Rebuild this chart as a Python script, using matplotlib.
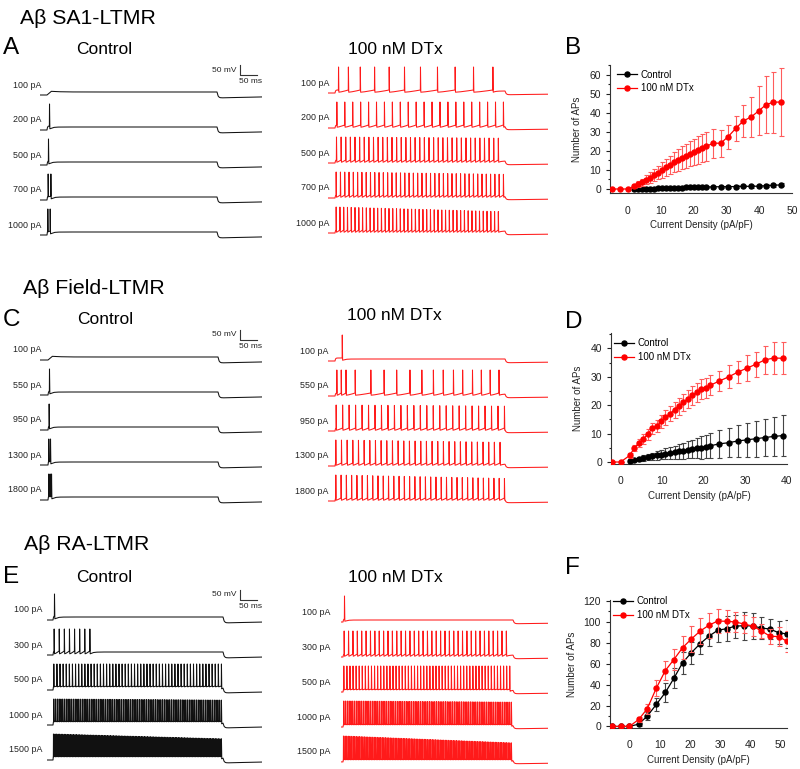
import numpy as np
import matplotlib
matplotlib.use('Agg')
import matplotlib.pyplot as plt
from matplotlib.lines import Line2D
from matplotlib.ticker import MultipleLocator

plt.rcParams['font.family'] = ['Liberation Sans', 'DejaVu Sans']
W, H = 800, 769

# ======================= DATA =======================
# trace labels (injected current)
sa1_currents = ['100 pA', '200 pA', '500 pA', '700 pA', '1000 pA']
field_currents = ['100 pA', '550 pA', '950 pA', '1300 pA', '1800 pA']
ra_currents = ['100 pA', '300 pA', '500 pA', '1000 pA', '1500 pA']

# spike trains: explicit spike times (ms after step onset) or (count, first, last)
sa1_ctrl_spikes = [[], [7], [4], [3, 11], [2, 9]]
sa1_dtx_spikes = [[10, 39, 74, 116, 159, 204, 251, 301, 353, 407, 464],
                  (22, 5, 495), (36, 4, 480), (40, 3, 495), (44, 3, 480)]
field_ctrl_spikes = [[], [4], [3], [2, 7], [2, 6, 10]]
field_dtx_spikes = [[21],
                    [5, 18, 32, 59, 105, 144, 181, 220, 255, 289, 318, 348,
                     375, 404, 430, 456, 482],
                    (27, 3, 498), (30, 2, 485), (33, 2, 498)]
ra_ctrl_spikes = [[4], (8, 3, 108), (55, 2, 495), (95, 2, 495), (110, 1, 495)]
ra_dtx_spikes = [[4], (38, 3, 480), (55, 2, 490), (95, 2, 495), (105, 1, 495)]

# relative spike amplitude at the end of each train
sa1_ctrl_amp_end = [1, 1, 1, 1, 1]
sa1_dtx_amp_end = [1, 1, 0.95, 0.9, 0.8]
field_ctrl_amp_end = [1, 1, 1, 1, 1]
field_dtx_amp_end = [1, 1, 0.95, 0.9, 0.85]
ra_ctrl_amp_end = [1, 1, 1, 0.95, 0.78]
ra_dtx_amp_end = [1, 1, 1, 0.95, 0.7]

# Panel B (SA1)
B_ctrl_x = [2.0, 3.2, 4.4, 5.6, 6.8, 8.1, 9.3, 10.5, 11.7, 12.9, 14.1, 15.3, 16.5,
            17.7, 18.9, 20.2, 21.4, 22.6, 23.8, 26.0, 28.3, 30.6, 32.9, 35.2, 37.6,
            39.9, 42.1, 44.3, 46.7]
B_ctrl_y = [0, 0, 0, 0.1, 0.2, 0.2, 0.3, 0.3, 0.3, 0.4, 0.5, 0.6, 0.7, 0.8, 0.9,
            0.9, 1.0, 1.0, 1.0, 1.1, 1.2, 1.2, 1.3, 1.4, 1.4, 1.5, 1.7, 1.9, 2.2]
B_ctrl_err = [0.1, 0.1, 0.1, 0.2, 0.2, 0.3, 0.3, 0.3, 0.3, 0.4, 0.4, 0.4, 0.5, 0.5,
              0.5, 0.5, 0.5, 0.5, 0.5, 0.5, 0.6, 0.6, 0.6, 0.6, 0.7, 0.7, 0.7, 0.8, 0.8]
B_dtx_x = [-4.9, -2.4, 0.0] + B_ctrl_x
B_dtx_y = [0, 0, 0, 1.5, 2.5, 3.5, 4.8, 6.0, 7.3, 8.6, 10.0, 11.3, 12.6, 14.0, 15.2,
           16.3, 17.4, 18.5, 19.5, 20.5, 21.5, 22.3, 24.0, 24.0, 27.5, 31.8, 35.7,
           37.8, 41.0, 44.2, 45.5, 45.6]
B_dtx_err = [0, 0, 0, 1.2, 1.6, 2.0, 2.4, 2.8, 3.2, 3.6, 4.0, 4.4, 4.8, 5.2, 5.6,
             6.0, 6.3, 6.6, 6.9, 7.2, 7.5, 7.7, 7.5, 7.0, 6.3, 6.6, 8.2, 10.6, 12.8,
             15.0, 16.0, 18.0]

# Panel D (Field)
D_ctrl_x = [2.2, 3.3, 4.4, 5.4, 6.5, 7.6, 8.7, 9.8, 10.8, 11.9, 13.0, 14.0, 15.1,
            16.2, 17.3, 18.4, 19.5, 20.5, 21.6, 23.8, 26.1, 28.2, 30.4, 32.6, 34.7,
            36.9, 39.1]
D_ctrl_y = [0.4, 0.8, 1.1, 1.4, 1.7, 2.0, 2.3, 2.6, 2.9, 3.1, 3.4, 3.7, 4.0, 4.3,
            4.6, 4.9, 5.1, 5.4, 5.7, 6.4, 6.8, 7.4, 7.8, 8.2, 8.6, 9.0, 9.3]
D_ctrl_err = [0.3, 0.5, 0.7, 0.9, 1.1, 1.3, 1.5, 1.7, 1.9, 2.1, 2.3, 2.5, 2.8, 3.0,
              3.3, 3.6, 3.9, 4.1, 4.4, 5.0, 5.2, 5.5, 6.0, 6.3, 6.5, 7.0, 7.1]
D_dtx_x = [-2.1, 0.0] + D_ctrl_x
D_dtx_y = [0, 0, 2.3, 4.9, 6.6, 8.1, 9.7, 11.8, 12.6, 14.3, 15.7, 17.0, 18.4, 19.7,
           21.0, 22.3, 23.5, 24.5, 25.6, 26.2, 27.0, 28.5, 30.0, 31.6, 33.0, 34.4,
           35.9, 36.6, 36.5]
D_dtx_err = [0, 0, 1.0, 1.2, 1.4, 1.6, 1.8, 2.0, 2.2, 2.4, 2.5, 2.7, 2.8, 3.0, 3.1,
             3.2, 3.3, 3.4, 3.5, 3.5, 3.5, 3.6, 4.0, 3.8, 4.6, 4.4, 5.0, 5.5, 5.7]

# Panel F (RA)
F_x = [-5.8, -2.9, 0.0, 3.1, 5.9, 8.9, 11.9, 14.7, 17.6, 20.5, 23.4, 26.4, 29.2,
       32.2, 35.0, 37.9, 40.8, 43.6, 46.5, 49.3, 52.1]
F_ctrl_y = [0, 0, 0, 2.2, 9.9, 21.0, 32.5, 46.0, 61.0, 70.6, 79.2, 86.6, 92.0,
            93.6, 96.0, 96.4, 96.1, 94.2, 93.2, 89.7, 88.5]
F_ctrl_err = [0, 0, 0, 1.5, 3.5, 6, 9, 9.5, 10.5, 10.5, 10, 9.5, 11, 12, 11, 13.5,
              12.7, 10.8, 10, 11, 13]
F_dtx_y = [0, 0, 0, 6.7, 16.9, 36.6, 53.5, 64.0, 75.4, 83.7, 91.3, 97.0, 100.9,
           100.6, 100.0, 98.0, 96.0, 91.5, 86.3, 86.0, 81.5]
F_dtx_err = [0, 0, 0, 2, 5, 7.6, 9, 10, 11, 12, 12, 12, 11.5, 10.5, 9.5, 9, 9, 6.5,
             7, 9, 10]

# ======================= STYLE / LAYOUT =======================
BLACK = '#111111'
RED = '#ff1a1a'
K = 0.34      # px per ms
M = 0.2       # px per mV
GAP = 175     # mV between stacked traces
DUR = 500     # step duration ms
MS = 3.6      # marker size

fig = plt.figure(figsize=(W / 100, H / 100), dpi=100)


def ftext(x, y, s, **kw):
    fig.text(x / W, 1 - y / H, s, **kw)


def spike_times(spec):
    if isinstance(spec, tuple):
        n, a, b = spec
        return list(np.linspace(a, b, n))
    return list(spec)


def build_trace(spec, amp_end, kind):
    if kind == 'ctrl':
        p, thr, ahp0, dip = 15.0, 20.0, 6.0, 15.0
    else:
        p, thr, ahp0, dip = 10.0, 15.0, 4.0, 9.0
    peak = 130.0
    spk = spike_times(spec)
    ts, vs = [-200.0, 0.0], [0.0, 0.0]
    t_end = spk[0] if spk else DUR
    tt = np.linspace(0, t_end, 40)
    if spk:
        v = thr * (1 - np.exp(-tt / 1.5)) / (1 - np.exp(-t_end / 1.5))
    else:
        v = p * (1 - np.exp(-tt / 3)) + 6 * (1 - np.exp(-tt / 3)) * np.exp(-tt / 25)
    ts += list(tt); vs += list(v)
    n = len(spk)
    for i, s in enumerate(spk):
        a = (peak - thr) * (1 + (amp_end - 1) * i / max(n - 1, 1))
        isi = (spk[i + 1] - s) if i < n - 1 else 50
        ahp = ahp0 if isi > 10 else thr - 4
        ts += [s + 0.4, s + 1.4]; vs += [thr + a, ahp]
        if i < n - 1:
            nxt = spk[i + 1]
            tt = np.linspace(s + 1.4, nxt, 8)
            fr = (tt - tt[0]) / (nxt - tt[0])
            v = ahp + (thr - ahp) * fr ** 1.3
        else:
            tt = np.linspace(s + 1.4, DUR, 40)
            v = p - (p - ahp) * np.exp(-(tt - tt[0]) / 8)
        ts += list(tt[1:]); vs += list(v[1:])
    tt = np.linspace(0, 400, 120)
    v_end = vs[-1]
    v = (v_end + dip) * np.exp(-tt / 3) - dip * np.exp(-tt / 300)
    ts += list(DUR + tt[1:]); vs += list(v[1:])
    return np.array(ts), np.array(vs)


def trace_panel(step, start, end, base, label_x, currents, spikes, amp_ends,
                kind, scalebar=False):
    pre = (step - start) / K
    post = (end - step) / K - DUR
    ylo, yhi = -GAP * 4 - 40, 160
    top = base - yhi * M
    bottom = base - ylo * M
    ax = fig.add_axes([start / W, 1 - bottom / H, (end - start) / W, (bottom - top) / H])
    ax.set_xlim(-pre, DUR + post)
    ax.set_ylim(ylo, yhi)
    ax.axis('off')
    color = BLACK if kind == 'ctrl' else RED
    for i, (lab, spec, ae) in enumerate(zip(currents, spikes, amp_ends)):
        t, v = build_trace(spec, ae, kind)
        ax.plot(t, v - GAP * i, color=color, lw=0.75, clip_on=True)
        ax.text((label_x - step) / K, 50 - GAP * i, lab, ha='right', va='center',
                fontsize=6.4, color='#222222', clip_on=False)
    if scalebar:
        xb = (240 - step) / K
        ax.plot([xb, xb, xb + 50], [150, 100, 100], color='#333333', lw=0.8,
                clip_on=False)
        ax.text(xb - 4 / K, 125, '50 mV', ha='right', va='center', fontsize=6,
                color='#222222')
        ax.text(xb + 22 / K, 67, '50 ms', ha='right', va='center', fontsize=6,
                color='#222222')
    return ax


def plot_panel(box, xlim, ylim, xt, ymaj, ymin, cx, cy, ce, dx, dy, de, leg_xy):
    x0, y0, x1, y1 = box
    ax = fig.add_axes([x0 / W, 1 - y1 / H, (x1 - x0) / W, (y1 - y0) / H])
    ax.errorbar(cx, cy, yerr=ce, fmt='none', ecolor='#444444', elinewidth=0.8,
                capsize=1.8, capthick=0.8, zorder=2)
    ax.plot(cx, cy, '-o', color='black', ms=MS, lw=0.9, zorder=3)
    ax.errorbar(dx, dy, yerr=de, fmt='none', ecolor='#ff5c5c', elinewidth=0.8,
                capsize=1.8, capthick=0.8, zorder=4)
    ax.plot(dx, dy, '-o', color='#ff0000', ms=MS, lw=0.9, zorder=5)
    ax.set_xlim(*xlim)
    ax.set_ylim(*ylim)
    ax.set_xticks(xt)
    ax.yaxis.set_major_locator(MultipleLocator(ymaj))
    ax.yaxis.set_minor_locator(MultipleLocator(ymin))
    for s in ['top', 'right']:
        ax.spines[s].set_visible(False)
    for s in ['left', 'bottom']:
        ax.spines[s].set_linewidth(0.8)
        ax.spines[s].set_color('#333333')
    ax.tick_params(axis='x', length=0, pad=9, labelsize=7.5, colors='#222222')
    ax.tick_params(axis='y', which='major', length=3, width=0.8, pad=3.5,
                   labelsize=7.5, colors='#222222')
    ax.tick_params(axis='y', which='minor', length=1.8, width=0.8, colors='#222222')
    ax.set_xlabel('Current Density (pA/pF)', fontsize=7, color='#222222', labelpad=3)
    ax.set_ylabel('Number of APs', fontsize=7, color='#222222', labelpad=5)
    handles = [Line2D([], [], color='black', marker='o', ms=MS, lw=0.9),
               Line2D([], [], color='#ff0000', marker='o', ms=MS, lw=0.9)]
    lx, ly = leg_xy
    ax.legend(handles, ['Control', '100 nM DTx'], loc='upper left',
              bbox_to_anchor=((lx - x0) / (x1 - x0), 1 - (ly - y0) / (y1 - y0)),
              frameon=False, fontsize=7, handlelength=2.1, handletextpad=0.35,
              labelspacing=0.35, borderpad=0, borderaxespad=0)
    return ax


# ---------------- Row 1: SA1 ----------------
ftext(20, 18, 'Aβ SA1-LTMR', fontsize=15.3, va='center', ha='left')
ftext(3, 48, 'A', fontsize=17.5, va='center', ha='left')
ftext(104, 50, 'Control', fontsize=12.5, va='center', ha='center')
ftext(395, 50, '100 nM DTx', fontsize=12.5, va='center', ha='center')
ftext(565, 48, 'B', fontsize=17.5, va='center', ha='left')
trace_panel(47, 40, 262, 95, 41, sa1_currents, sa1_ctrl_spikes, sa1_ctrl_amp_end,
            'ctrl', scalebar=True)
trace_panel(335, 328, 548, 93, 329, sa1_currents, sa1_dtx_spikes, sa1_dtx_amp_end,
            'dtx')
plot_panel((610, 65, 792, 193), (-5.4, 50), (-2.1, 65), [0, 10, 20, 30, 40, 50],
           10, 5, B_ctrl_x, B_ctrl_y, B_ctrl_err, B_dtx_x, B_dtx_y, B_dtx_err,
           (617, 69.5))

# ---------------- Row 2: Field ----------------
ftext(23, 288, 'Aβ Field-LTMR', fontsize=15.3, va='center', ha='left')
ftext(3, 320, 'C', fontsize=17.5, va='center', ha='left')
ftext(105, 320, 'Control', fontsize=12.5, va='center', ha='center')
ftext(394, 315, '100 nM DTx', fontsize=12.5, va='center', ha='center')
ftext(565, 322, 'D', fontsize=17.5, va='center', ha='left')
trace_panel(48, 40, 262, 360, 41, field_currents, field_ctrl_spikes,
            field_ctrl_amp_end, 'ctrl', scalebar=True)
trace_panel(335, 328, 548, 361, 328, field_currents, field_dtx_spikes,
            field_dtx_amp_end, 'dtx')
plot_panel((611, 333, 787, 464), (-2.3, 40.1), (-0.7, 45.4), [0, 10, 20, 30, 40],
           10, 5, D_ctrl_x, D_ctrl_y, D_ctrl_err, D_dtx_x, D_dtx_y, D_dtx_err,
           (614, 338.5))

# ---------------- Row 3: RA ----------------
ftext(24, 545, 'Aβ RA-LTMR', fontsize=15.3, va='center', ha='left')
ftext(3, 577, 'E', fontsize=17.5, va='center', ha='left')
ftext(104, 578, 'Control', fontsize=12.5, va='center', ha='center')
ftext(395, 578, '100 nM DTx', fontsize=12.5, va='center', ha='center')
ftext(565, 568, 'F', fontsize=17.5, va='center', ha='left')
trace_panel(53, 47, 262, 620, 42, ra_currents, ra_ctrl_spikes, ra_ctrl_amp_end,
            'ctrl', scalebar=True)
trace_panel(343, 341, 548, 622, 330, ra_currents, ra_dtx_spikes, ra_dtx_amp_end,
            'dtx')
plot_panel((610, 600, 787, 728), (-6.4, 52.1), (-1.5, 121), [0, 10, 20, 30, 40, 50],
           20, 10, F_x, F_ctrl_y, F_ctrl_err, F_x, F_dtx_y, F_dtx_err,
           (613, 596.5))

fig.savefig('out.png', dpi=100)
